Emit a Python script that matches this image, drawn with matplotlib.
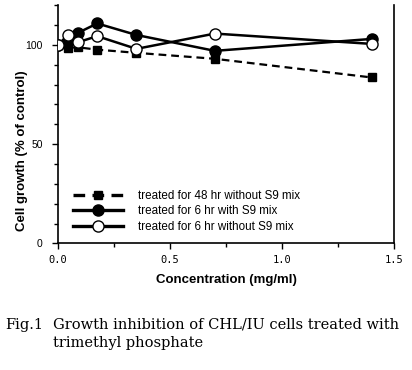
import matplotlib.pyplot as plt
from matplotlib.ticker import MultipleLocator

conc = [0.0, 0.044, 0.088, 0.175, 0.35, 0.70, 1.40]
growth_48h = [100, 98.5, 98.8, 97.6, 96.0, 93.0, 83.6]
growth_6h_s9 = [100, 102, 106, 110.8, 105, 97, 103]
growth_6h_no_s9 = [100, 105, 101.3, 104.4, 98, 105.7, 100.5]

labels = ['treated for 48 hr without S9 mix',
          'treated for 6 hr with S9 mix',
          'treated for 6 hr without S9 mix']

plt.rcParams['font.family'] = ['Liberation Sans', 'DejaVu Sans']
serif = ['DejaVu Serif', 'Liberation Serif']

fig = plt.figure(figsize=(4.12, 3.70), dpi=100)
ax = fig.add_axes([0.1408, 0.342, 0.8155, 0.644])

ax.plot(conc, growth_48h, 'k--', marker='s', ms=5.5, lw=1.6, dashes=(3.5, 2.2), label=labels[0], zorder=2)
ax.plot(conc, growth_6h_s9, 'k-', marker='o', ms=8, lw=1.8, label=labels[1], zorder=3)
ax.plot(conc, growth_6h_no_s9, 'k-', marker='o', ms=8, lw=1.8, mfc='white', mec='black', mew=1.0,
        label=labels[2], zorder=4)

ax.set_xlim(0, 1.5)
ax.set_ylim(0, 120)
ax.xaxis.set_major_locator(MultipleLocator(0.5))
ax.xaxis.set_minor_locator(MultipleLocator(0.25))
ax.yaxis.set_major_locator(MultipleLocator(50))
ax.yaxis.set_minor_locator(MultipleLocator(10))
ax.xaxis.set_major_formatter(plt.FuncFormatter(lambda v, p: '%.1f' % v))
ax.tick_params(which='major', direction='out', length=4, width=1, labelsize=7.5)
ax.tick_params(which='minor', direction='out', length=3, width=1)
ax.tick_params(axis='y', pad=7)
ax.tick_params(axis='x', pad=4)
for t in ax.get_xticklabels():
    t.set_family('DejaVu Sans Mono')
    t.set_fontsize(7.5)
ax.spines['top'].set_visible(False)
for s in ['left', 'right', 'bottom']:
    ax.spines[s].set_linewidth(1.2)

ax.set_xlabel('Concentration (mg/ml)', fontsize=9.5, fontweight='bold', labelpad=7)
ax.set_ylabel('Cell growth (% of control)', fontsize=9.5, fontweight='bold')
ax.yaxis.set_label_coords(-0.089, 0.39)

leg = ax.legend(loc='lower left', bbox_to_anchor=(0.045, 0.045), frameon=False, fontsize=8.4,
                handlelength=4.3, handletextpad=1.3, labelspacing=0.3,
                borderaxespad=0, borderpad=0)
for h in leg.legend_handles:
    h.set_linewidth(2.4)

fig.text(0.012, 0.122, 'Fig.1', family=serif, fontsize=10.5, va='center')
fig.text(0.128, 0.122, 'Growth inhibition of CHL/IU cells treated with',
         family=serif, fontsize=10.5, va='center')
fig.text(0.128, 0.073, 'trimethyl phosphate', family=serif, fontsize=10.5, va='center')

fig.savefig('out.png', dpi=100)
